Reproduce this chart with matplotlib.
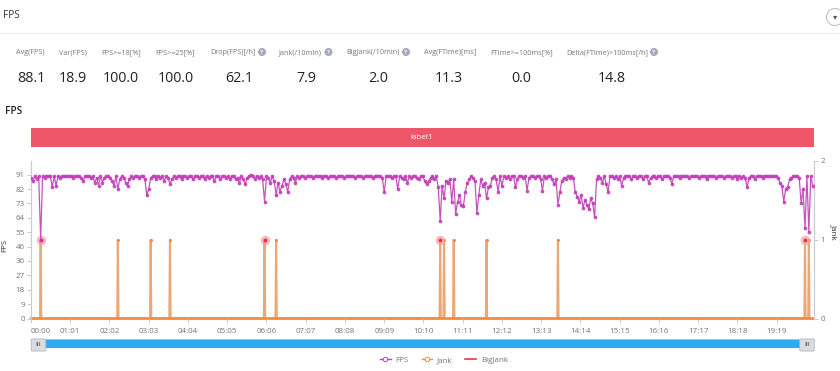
import numpy as np
import matplotlib
matplotlib.use("Agg")
import matplotlib.pyplot as plt
from matplotlib.patches import Rectangle, FancyBboxPatch
from matplotlib.lines import Line2D

plt.rcParams['font.family'] = ['Open Sans', 'DejaVu Sans']

W, H = 840, 371
SAMPLE_SECONDS = 3

metric_names = ["Avg(FPS)", "Var(FPS)", "FPS>=18[%]", "FPS>=25[%]", "Drop(FPS)[/h]", "Jank(/10min)",
                "BigJank(/10min)", "Avg(FTime)[ms]", "FTime>=100ms[%]", "Delta(FTime)>100ms[/h]"]
metric_values = ["88.1", "18.9", "100.0", "100.0", "62.1", "7.9", "2.0", "11.3", "0.0", "14.8"]
metric_help = [False, False, False, False, True, True, True, False, False, True]

left_ticks = [0, 9.1, 18.2, 27.3, 36.4, 45.5, 54.6, 63.7, 72.8, 81.9, 91]
left_labels = ["0", "9", "18", "27", "36", "46", "55", "64", "73", "82", "91"]
right_ticks = [0, 1, 2]
x_tick_seconds = [0, 61, 122, 183, 244, 305, 366, 427, 488, 549, 610, 671, 732, 793, 854, 915, 976, 1037, 1098, 1159]
x_tick_labels = ["00:00", "01:01", "02:02", "03:03", "04:04", "05:05", "06:06", "07:07", "08:08", "09:09",
                 "10:10", "11:11", "12:12", "13:13", "14:14", "15:15", "16:16", "17:17", "18:18", "19:19"]

fps_values = [
    89,87,90,88,90,50,90,89,90,90,90,83,90,84,90,89,90,90,90,90,
    90,90,89,90,90,90,89,87,90,90,90,89,90,86,89,84,90,86,89,90,
    90,89,87,84,90,82,88,90,89,86,84,88,90,89,90,90,89,90,90,88,
    78,82,89,90,90,88,90,89,90,87,90,89,85,88,90,89,90,90,88,90,
    90,89,90,90,88,90,90,89,90,90,88,90,89,90,90,87,90,90,88,90,
    90,89,90,88,90,90,88,89,86,90,88,85,89,90,91,90,88,90,89,90,
    88,74,90,89,86,90,87,78,86,80,84,88,85,80,88,90,89,86,90,89,
    90,90,89,90,90,90,89,90,90,90,90,89,90,90,89,90,90,90,89,90,
    90,90,89,90,90,90,90,90,89,90,90,90,89,90,90,90,90,89,90,90,
    90,90,89,80,90,90,90,89,90,90,82,90,89,88,90,86,90,89,90,90,
    89,88,90,90,87,85,87,89,90,88,90,83,62,84,76,87,86,88,74,88,
    66,74,78,72,71,80,86,88,90,89,87,67,78,88,84,86,76,83,84,89,
    90,88,80,90,84,90,89,90,88,90,90,83,88,90,90,89,90,81,89,90,
    90,89,90,90,88,81,90,89,90,90,88,85,88,72,80,87,89,88,90,89,
    90,89,80,77,74,78,70,75,72,69,76,73,64,88,90,89,86,90,85,80,
    90,90,89,90,88,90,84,89,90,90,90,88,90,90,89,90,90,88,90,90,
    86,89,90,90,89,90,90,88,90,90,90,89,85,90,90,90,89,90,90,90,
    90,89,90,90,90,90,89,90,90,90,88,90,90,90,90,89,90,90,90,89,
    90,90,90,89,90,90,88,90,89,90,89,83,89,90,90,88,90,90,90,89,
    90,90,90,90,90,90,90,89,86,84,74,82,83,88,89,90,90,90,89,73,
    82,57,90,55,90,84,
]
jank_seconds = [15, 135, 186, 216, 363, 381, 636, 642, 657, 708, 819, 1203, 1209]
highlight_seconds = [15, 363, 636, 1203]

FPS_C = "#C23FB6"
JANK_C = "#EE8B45"
BIG_C = "#E0364C"
GRID_C = "#C9CDD2"
TEXT_C = "#757575"


def fx(px):
    return px / W


def fy(py):
    return 1 - py / H


fig = plt.figure(figsize=(W / 100, H / 100), dpi=100, facecolor="white")

# header
fig.text(fx(3), fy(16), "FPS", fontsize=7.2, color="#333333", va="center", ha="left")
fig.text(fx(5), fy(112), "FPS", fontsize=7.2, color="#222222", va="center", ha="left", fontweight="semibold")
fig.add_artist(Line2D([0, 1], [fy(32.5)] * 2, color="#EEEEEE", lw=0.8))
dd = matplotlib.patches.Ellipse((fx(835), fy(17)), 17 / W, 17 / H, transform=fig.transFigure,
                                fc="white", ec="#BBBBBB", lw=0.7)
fig.add_artist(dd)
fig.text(fx(835.5), fy(17.5), "\u25BE", fontsize=6, color="#555555", ha="center", va="center")

name_x = [16, 59, 101, 155, 210, 279, 346, 424, 490, 566]
value_cx = [31, 73, 121, 176, 239, 306, 378, 449, 521, 612]
help_x = [None, None, None, None, 262, 328.5, 406, None, None, 654]
for name, val, nx, vx, hx, has_help in zip(metric_names, metric_values, name_x, value_cx, help_x, metric_help):
    fig.text(fx(nx), fy(52.5), name, fontsize=5.25, color="#777777", ha="left", va="center")
    fig.text(fx(vx), fy(79), val, fontsize=10.3, color="#222222", ha="center", va="center")
    if has_help:
        c = matplotlib.patches.Ellipse((fx(hx), fy(52)), 8 / W, 8 / H, transform=fig.transFigure,
                                       fc="#A4A9B8", ec="none")
        fig.add_artist(c)
        fig.text(fx(hx), fy(52), "?", fontsize=4.6, color="white", ha="center", va="center", fontweight="bold")

# label band
fig.add_artist(Rectangle((fx(31), fy(147)), 783 / W, 19 / H, transform=fig.transFigure, fc="#F0566A", ec="none"))
fig.text(fx(422), fy(137.5), "label1", fontsize=5.8, color="white", ha="center", va="center")

# main axes
ax = fig.add_axes([fx(31), fy(318.5), 783 / W, 158 / H])
ax2 = ax.twinx()
ax.set_zorder(ax2.get_zorder() + 1)
ax.patch.set_visible(False)

fps = np.array(fps_values, dtype=float)
t = np.arange(len(fps)) * SAMPLE_SECONDS
t_jank = np.arange(0, t[-1] + 1)
jank = np.zeros_like(t_jank, dtype=float)
jank[jank_seconds] = 1
big = np.zeros_like(jank)

ax.set_xlim(0, 1217)
ax.set_ylim(0, 100)
ax2.set_ylim(0, 2)

big_line, = ax2.plot(t_jank, big, color=BIG_C, lw=1.2, label="BigJank", clip_on=False)
ax2.plot(t_jank, jank, color="#EAA878", lw=1.5, solid_joinstyle="miter", clip_on=False)
ax2.plot(t_jank, jank * 0, color=JANK_C, lw=1.7, clip_on=False)
ax2.plot(t_jank[jank_seconds], jank[jank_seconds], ls="none", marker="o", ms=2.2, color=JANK_C, mec="none")
jank_handle = Line2D([], [], color=JANK_C, lw=1, marker="o", ms=3.2, mfc="white", mec=JANK_C, mew=0.7, label="Jank")

ax2.scatter(t_jank[highlight_seconds], jank[highlight_seconds], s=46, color="#F3A0A6", alpha=0.75,
            linewidths=0, zorder=4)
ax2.scatter(t_jank[highlight_seconds], jank[highlight_seconds], s=7, color="#E4303F", linewidths=0, zorder=5)

ax.plot(t, fps, color=FPS_C, lw=0.9, alpha=0.9, marker="o", ms=2.7, mec="none", mfc=FPS_C, zorder=6)
fps_handle = Line2D([], [], color=FPS_C, lw=1, marker="o", ms=3.2, mfc="white", mec=FPS_C, mew=0.7, label="FPS")

ax.set_yticks(left_ticks)
ax.set_yticklabels(left_labels)
ax2.set_yticks(right_ticks)
ax2.set_yticklabels([str(v) for v in right_ticks])
ax.set_xticks(x_tick_seconds)
ax.set_xticklabels(x_tick_labels)

for a in (ax, ax2):
    for s in ("top", "bottom"):
        a.spines[s].set_visible(False)
    a.spines["left"].set_color(GRID_C)
    a.spines["right"].set_color(GRID_C)
    a.spines["left"].set_linewidth(0.8)
    a.spines["right"].set_linewidth(0.8)
    a.tick_params(axis="both", labelsize=5.8, labelcolor=TEXT_C, color=GRID_C, width=0.7, length=3, pad=1.5)
ax.tick_params(axis="x", pad=3.5)
ax.get_xticklabels()[0].set_ha("left")

fig.text(fx(5), fy(245), "FPS", fontsize=5.8, color="#333333", rotation=90, ha="center", va="center")
fig.text(fx(834), fy(232), "Jank", fontsize=5.8, color="#333333", rotation=270, ha="center", va="center")

# range slider
fig.add_artist(Rectangle((fx(38), fy(348)), 769 / W, 9 / H, transform=fig.transFigure, fc="#2FA9F1", ec="none"))
fig.add_artist(Rectangle((fx(38), fy(340)), 769 / W, 1 / H, transform=fig.transFigure, fc="#85CDF5", ec="none"))
for px0 in (31.5, 800):
    fig.add_artist(FancyBboxPatch((fx(px0 + 1), fy(350.5)), 12 / W, 11 / H, transform=fig.transFigure,
                                  boxstyle="round,pad=0.0015", fc="#DADDE0", ec="#B5B8BC", lw=0.6))
    fig.text(fx(px0 + 7), fy(344.5), "III", fontsize=4, color="#6A6F75", ha="center", va="center",
             fontweight="bold")

# legend
fig.legend(handles=[fps_handle, jank_handle, big_line], loc="center", bbox_to_anchor=(fx(444), fy(360)),
           ncols=3, frameon=False, fontsize=5.8, labelcolor=TEXT_C, handlelength=1.3, handletextpad=0.6,
           columnspacing=1.6, borderpad=0)

fig.savefig("out.png", dpi=100, facecolor="white")
